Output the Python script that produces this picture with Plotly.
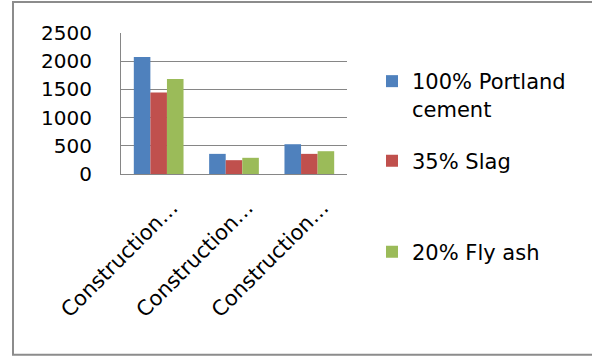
import plotly.graph_objects as go

# Chart data
categories = ["Construction A", "Construction B", "Construction C"]
tick_text = ["Construction…", "Construction…", "Construction…"]
portland = [2075, 357, 528]
slag = [1443, 245, 357]
fly_ash = [1685, 287, 404]

series_names = ["100% Portland<br>cement", "35% Slag", "20% Fly ash"]
series_values = [portland, slag, fly_ash]
series_colors = ["#4F81BD", "#C0504D", "#9BBB59"]
legend_ids = ["legend", "legend2", "legend3"]

W, H = 592, 358
FONT = "DejaVu Sans"

fig = go.Figure()
for name, vals, col, lg in zip(series_names, series_values, series_colors, legend_ids):
    fig.add_trace(go.Bar(x=categories, y=vals, name=name, marker=dict(color=col, line=dict(width=0)),
                         legend=lg, showlegend=True))

# plot area in pixels
L, R, T, B = 121, 347, 33, 174.5
pw, ph = R - L, B - T


def px_x(p):
    return (p - L) / pw


def px_y(p):
    return (B - p) / ph


def legend_box(py, anchor):
    return dict(xref="container", yref="container", x=372 / W, y=1 - py / H,
                xanchor="left", yanchor=anchor, bgcolor="rgba(0,0,0,0)",
                font=dict(family=FONT, size=21, color="#000"), valign="top",
                itemclick=False, itemdoubleclick=False)


fig.update_layout(
    width=W, height=H,
    margin=dict(l=L, r=W - R, t=T, b=H - B, pad=0),
    paper_bgcolor="white", plot_bgcolor="white",
    showlegend=True,
    barmode="group", bargap=0.34, bargroupgap=0,
    font=dict(family=FONT, size=20, color="#000"),
    legend=legend_box(61, "top"),
    legend2=legend_box(161, "middle"),
    legend3=legend_box(252, "middle"),
    xaxis=dict(tickmode="array", tickvals=categories, ticktext=tick_text, tickangle=-45,
               showline=True, linecolor="#868686", linewidth=1, showgrid=False, ticks="",
               tickfont=dict(family=FONT, size=21), ticklabelshift=13, ticklabelstandoff=12),
    yaxis=dict(range=[0, 2500], dtick=500, showgrid=True, gridcolor="#868686", gridwidth=1,
               showline=True, linecolor="#868686", linewidth=1, ticks="", zeroline=False,
               tickfont=dict(family=FONT, size=20), ticklabelstandoff=24),
    shapes=[dict(type="rect", xref="paper", yref="paper",
                 x0=px_x(13), x1=px_x(W + 10), y0=px_y(356), y1=px_y(2),
                 line=dict(color="#8C8C8C", width=2), fillcolor="rgba(0,0,0,0)", layer="below")],
)

fig.write_html("out.html")
